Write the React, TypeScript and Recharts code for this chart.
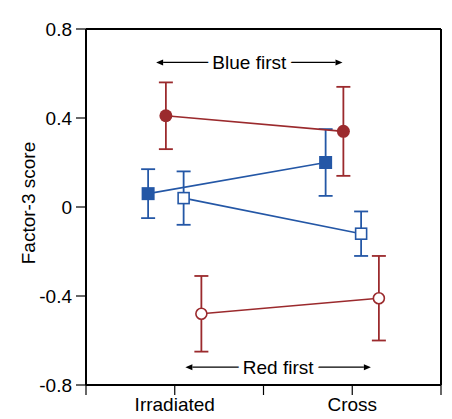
import { ScatterChart, Scatter, XAxis, YAxis, ErrorBar, ReferenceLine, Label } from 'recharts'

const RED = '#9b2a2d'
const BLUE = '#2457a6'
const FONT = '"Liberation Sans", Arial, Helvetica, sans-serif'

// x axis runs 0..4; the two groups sit at 1 (Irradiated) and 3 (Cross)
const xTicks = [0, 1, 2, 3, 4]
const xTickLabels: Record<number, string> = { 1: 'Irradiated', 3: 'Cross' }
const yTicks = [-0.8, -0.4, 0, 0.4, 0.8]

// blue first, filled squares
const blueFilledX = [0.7, 2.7]
const blueFilledY = [0.06, 0.2]
const blueFilledErr = [0.11, 0.15]

// red first, filled circles
const redFilledX = [0.9, 2.9]
const redFilledY = [0.41, 0.34]
const redFilledErr = [0.15, 0.2]

// blue first, open squares
const blueOpenX = [1.1, 3.1]
const blueOpenY = [0.04, -0.12]
const blueOpenErr = [0.12, 0.1]

// red first, open circles
const redOpenX = [1.3, 3.3]
const redOpenY = [-0.48, -0.41]
const redOpenErr = [0.17, 0.19]

// order annotations: [x start, x end, y]
const blueFirstSpan = [0.79, 2.89, 0.65]
const redFirstSpan = [1.12, 3.21, -0.72]

const toPoints = (xs: number[], ys: number[], errs: number[]) =>
  xs.map((x, i) => ({ x, y: ys[i], err: errs[i] }))

const FilledSquare = ({ cx, cy, color }: any) => (
  <rect x={cx - 6.5} y={cy - 6.5} width={13} height={13} fill={color} />
)
const OpenSquare = ({ cx, cy, color }: any) => (
  <rect x={cx - 5.5} y={cy - 5.5} width={11} height={11} fill="#fff" stroke={color} strokeWidth={1.6} />
)
const FilledCircle = ({ cx, cy, color }: any) => <circle cx={cx} cy={cy} r={6.5} fill={color} />
const OpenCircle = ({ cx, cy, color }: any) => (
  <circle cx={cx} cy={cy} r={5.5} fill="#fff" stroke={color} strokeWidth={1.6} />
)

// double-headed arrow with the text sitting in a gap in the middle
const ArrowLabel = ({ x1, x2, y1, text }: any) => {
  const mid = (x1 + x2) / 2
  const head = 7
  return (
    <g>
      <line x1={x1 + head} y1={y1} x2={x2 - head} y2={y1} stroke="#000" strokeWidth={1.2} />
      <path d={`M${x1},${y1} L${x1 + head},${y1 - 3} L${x1 + head},${y1 + 3} Z`} fill="#000" />
      <path d={`M${x2},${y1} L${x2 - head},${y1 - 3} L${x2 - head},${y1 + 3} Z`} fill="#000" />
      <text
        x={mid}
        y={y1 + 6.5}
        textAnchor="middle"
        fontFamily={FONT}
        fontSize={19}
        fill="#000"
        stroke="#fff"
        strokeWidth={11}
        paintOrder="stroke"
        strokeLinejoin="round"
      >
        {text}
      </text>
    </g>
  )
}

const axisLine = { stroke: '#000', strokeWidth: 2 }
const tickLine = { stroke: '#000', strokeWidth: 1.2 }
const tickStyle = { fill: '#000', fontSize: 19, fontFamily: FONT }

export default function App() {
  return (
    <ScatterChart width={444} height={411} margin={{ top: 21, right: 11, bottom: 0, left: 0 }}>
      <XAxis
        type="number"
        dataKey="x"
        domain={[0, 4]}
        ticks={xTicks}
        interval={0}
        tickFormatter={(v: number) => xTickLabels[v] ?? ''}
        height={34}
        tickSize={10}
        tickMargin={3}
        axisLine={axisLine}
        tickLine={tickLine}
        tick={tickStyle}
      />
      <YAxis
        type="number"
        dataKey="y"
        domain={[-0.8, 0.8]}
        ticks={yTicks}
        interval={0}
        tickFormatter={(v: number) => (v === 0 ? '0' : v.toFixed(1))}
        width={78}
        tickSize={10}
        tickMargin={4}
        axisLine={axisLine}
        tickLine={tickLine}
        tick={tickStyle}
      >
        <Label
          content={({ viewBox }: any) => {
            const x = viewBox.x + 20
            const y = viewBox.y + viewBox.height / 2 - 4
            return (
              <text
                x={x}
                y={y}
                transform={`rotate(-90, ${x}, ${y})`}
                textAnchor="middle"
                dominantBaseline="central"
                fontFamily={FONT}
                fontSize={19}
                fill="#000"
              >
                Factor-3 score
              </text>
            )
          }}
        />
      </YAxis>

      <ReferenceLine y={0.8} stroke="#000" strokeWidth={2} />
      <ReferenceLine x={4} stroke="#000" strokeWidth={2} />

      <ReferenceLine
        segment={[{ x: blueFirstSpan[0], y: blueFirstSpan[2] }, { x: blueFirstSpan[1], y: blueFirstSpan[2] }]}
        shape={(p: any) => <ArrowLabel {...p} text="Blue first" />}
      />
      <ReferenceLine
        segment={[{ x: redFirstSpan[0], y: redFirstSpan[2] }, { x: redFirstSpan[1], y: redFirstSpan[2] }]}
        shape={(p: any) => <ArrowLabel {...p} text="Red first" />}
      />

      <Scatter
        data={toPoints(blueFilledX, blueFilledY, blueFilledErr)}
        line={{ stroke: BLUE, strokeWidth: 1.6 }}
        stroke={BLUE}
        fill={BLUE}
        shape={(p: any) => <FilledSquare {...p} color={BLUE} />}
        isAnimationActive={false}
      >
        <ErrorBar dataKey="err" direction="y" width={7} stroke={BLUE} strokeWidth={1.8} />
      </Scatter>
      <Scatter
        data={toPoints(redFilledX, redFilledY, redFilledErr)}
        line={{ stroke: RED, strokeWidth: 1.6 }}
        stroke={RED}
        fill={RED}
        shape={(p: any) => <FilledCircle {...p} color={RED} />}
        isAnimationActive={false}
      >
        <ErrorBar dataKey="err" direction="y" width={7} stroke={RED} strokeWidth={1.8} />
      </Scatter>
      <Scatter
        data={toPoints(blueOpenX, blueOpenY, blueOpenErr)}
        line={{ stroke: BLUE, strokeWidth: 1.6 }}
        stroke={BLUE}
        fill={BLUE}
        shape={(p: any) => <OpenSquare {...p} color={BLUE} />}
        isAnimationActive={false}
      >
        <ErrorBar dataKey="err" direction="y" width={7} stroke={BLUE} strokeWidth={1.8} />
      </Scatter>
      <Scatter
        data={toPoints(redOpenX, redOpenY, redOpenErr)}
        line={{ stroke: RED, strokeWidth: 1.6 }}
        stroke={RED}
        fill={RED}
        shape={(p: any) => <OpenCircle {...p} color={RED} />}
        isAnimationActive={false}
      >
        <ErrorBar dataKey="err" direction="y" width={7} stroke={RED} strokeWidth={1.8} />
      </Scatter>
    </ScatterChart>
  )
}
